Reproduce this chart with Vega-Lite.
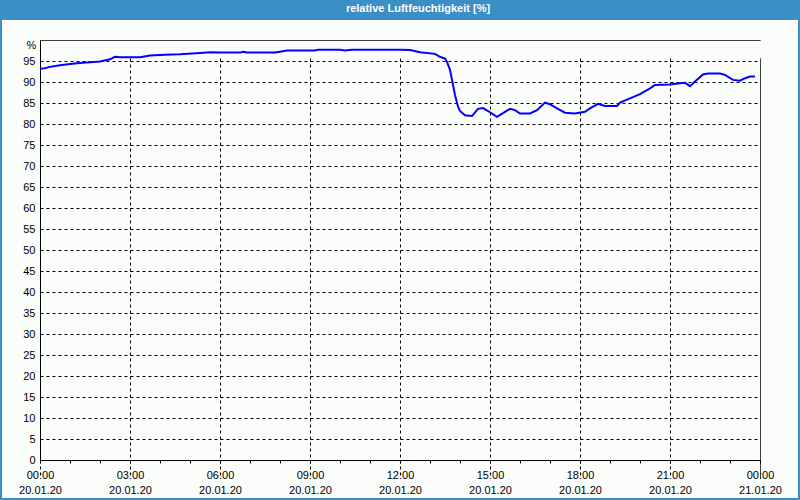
{
  "$schema": "https://vega.github.io/schema/vega-lite/v6.json",
  "width": 796,
  "height": 478,
  "autosize": {"type": "none"},
  "padding": {"left": 2, "top": 20, "right": 2, "bottom": 2},
  "background": "#3b8ec6",
  "title": {
    "text": "relative Luftfeuchtigkeit [%]",
    "color": "white",
    "font": "Liberation Sans",
    "fontSize": 11,
    "fontWeight": "bold",
    "anchor": "middle",
    "frame": "group",
    "baseline": "middle",
    "offset": 0,
    "dx": 18
  },
  "config": {
    "view": {"fill": "#fbfdfb", "stroke": null},
    "font": "Liberation Sans"
  },
  "data": {
    "values": [
      {"t": "2020-01-20T00:00", "rh": 93.1},
      {"t": "2020-01-20T00:10", "rh": 93.3},
      {"t": "2020-01-20T00:20", "rh": 93.6},
      {"t": "2020-01-20T00:40", "rh": 94.0},
      {"t": "2020-01-20T01:00", "rh": 94.3},
      {"t": "2020-01-20T01:20", "rh": 94.5},
      {"t": "2020-01-20T01:40", "rh": 94.7},
      {"t": "2020-01-20T02:00", "rh": 94.9},
      {"t": "2020-01-20T02:20", "rh": 95.4},
      {"t": "2020-01-20T02:30", "rh": 96.0},
      {"t": "2020-01-20T02:40", "rh": 95.9},
      {"t": "2020-01-20T03:20", "rh": 95.9},
      {"t": "2020-01-20T03:40", "rh": 96.3},
      {"t": "2020-01-20T04:10", "rh": 96.5},
      {"t": "2020-01-20T04:40", "rh": 96.6},
      {"t": "2020-01-20T05:20", "rh": 96.9},
      {"t": "2020-01-20T05:40", "rh": 97.1},
      {"t": "2020-01-20T06:00", "rh": 97.0},
      {"t": "2020-01-20T06:40", "rh": 97.0},
      {"t": "2020-01-20T06:46", "rh": 97.2},
      {"t": "2020-01-20T06:54", "rh": 97.0},
      {"t": "2020-01-20T07:50", "rh": 97.0},
      {"t": "2020-01-20T08:00", "rh": 97.2},
      {"t": "2020-01-20T08:14", "rh": 97.5},
      {"t": "2020-01-20T09:10", "rh": 97.5},
      {"t": "2020-01-20T09:16", "rh": 97.7},
      {"t": "2020-01-20T10:00", "rh": 97.7},
      {"t": "2020-01-20T10:10", "rh": 97.5},
      {"t": "2020-01-20T10:24", "rh": 97.7},
      {"t": "2020-01-20T12:00", "rh": 97.7},
      {"t": "2020-01-20T12:20", "rh": 97.6},
      {"t": "2020-01-20T12:40", "rh": 97.1},
      {"t": "2020-01-20T13:10", "rh": 96.7},
      {"t": "2020-01-20T13:20", "rh": 96.0},
      {"t": "2020-01-20T13:30", "rh": 95.6},
      {"t": "2020-01-20T13:34", "rh": 94.8},
      {"t": "2020-01-20T13:40", "rh": 92.9},
      {"t": "2020-01-20T13:44", "rh": 90.5},
      {"t": "2020-01-20T13:50", "rh": 86.9},
      {"t": "2020-01-20T13:56", "rh": 84.1},
      {"t": "2020-01-20T14:00", "rh": 83.1},
      {"t": "2020-01-20T14:10", "rh": 82.1},
      {"t": "2020-01-20T14:24", "rh": 81.9},
      {"t": "2020-01-20T14:36", "rh": 83.6},
      {"t": "2020-01-20T14:46", "rh": 83.8},
      {"t": "2020-01-20T15:00", "rh": 82.8},
      {"t": "2020-01-20T15:14", "rh": 81.7},
      {"t": "2020-01-20T15:30", "rh": 82.9},
      {"t": "2020-01-20T15:40", "rh": 83.6},
      {"t": "2020-01-20T15:50", "rh": 83.3},
      {"t": "2020-01-20T16:00", "rh": 82.5},
      {"t": "2020-01-20T16:20", "rh": 82.5},
      {"t": "2020-01-20T16:34", "rh": 83.3},
      {"t": "2020-01-20T16:50", "rh": 85.1},
      {"t": "2020-01-20T17:00", "rh": 84.7},
      {"t": "2020-01-20T17:14", "rh": 83.7},
      {"t": "2020-01-20T17:30", "rh": 82.7},
      {"t": "2020-01-20T17:50", "rh": 82.5},
      {"t": "2020-01-20T18:10", "rh": 82.9},
      {"t": "2020-01-20T18:20", "rh": 83.7},
      {"t": "2020-01-20T18:36", "rh": 84.8},
      {"t": "2020-01-20T18:50", "rh": 84.3},
      {"t": "2020-01-20T19:14", "rh": 84.3},
      {"t": "2020-01-20T19:20", "rh": 85.1},
      {"t": "2020-01-20T19:40", "rh": 86.1},
      {"t": "2020-01-20T20:00", "rh": 87.1},
      {"t": "2020-01-20T20:20", "rh": 88.5},
      {"t": "2020-01-20T20:30", "rh": 89.3},
      {"t": "2020-01-20T21:00", "rh": 89.4},
      {"t": "2020-01-20T21:20", "rh": 89.7},
      {"t": "2020-01-20T21:30", "rh": 89.8},
      {"t": "2020-01-20T21:40", "rh": 89.0},
      {"t": "2020-01-20T21:50", "rh": 90.1},
      {"t": "2020-01-20T22:06", "rh": 91.8},
      {"t": "2020-01-20T22:16", "rh": 92.0},
      {"t": "2020-01-20T22:40", "rh": 92.0},
      {"t": "2020-01-20T22:50", "rh": 91.7},
      {"t": "2020-01-20T23:06", "rh": 90.5},
      {"t": "2020-01-20T23:20", "rh": 90.3},
      {"t": "2020-01-20T23:30", "rh": 90.9},
      {"t": "2020-01-20T23:40", "rh": 91.3},
      {"t": "2020-01-20T23:50", "rh": 91.3}
    ]
  },
  "mark": {"type": "line", "color": "#0000ff", "strokeWidth": 2},
  "encoding": {
    "x": {
      "field": "t",
      "type": "temporal",
      "scale": {
        "domain": [{"year": 2020, "month": 1, "date": 20, "hours": 0}, {"year": 2020, "month": 1, "date": 21, "hours": 0}],
        "range": [38, 758],
        "nice": false
      },
      "axis": {
        "orient": "bottom",
        "offset": -38,
        "title": null,
        "tickCount": 24,
        "labelExpr": "hours(datum.value) % 3 == 0 ? [timeFormat(datum.value, '%H:%M'), timeFormat(datum.value, '%d.%m.%y')] : ''",
        "labelOverlap": false,
        "labelFlush": false,
        "labelBound": false,
        "labelFont": "Liberation Sans",
        "labelFontSize": 11,
        "labelColor": "black",
        "labelPadding": 6,
        "labelLineHeight": 15,
        "labelBaseline": "top",
        "tickSize": 3,
        "tickColor": "black",
        "domainColor": "black",
        "grid": true,
        "gridColor": "black",
        "gridDash": {"condition": {"test": "+datum.value >= +datetime(2020, 0, 21)", "value": [1, 0]}, "value": [3, 3]},
        "gridOpacity": {"condition": {"test": "hours(datum.value) % 3 == 0", "value": 1}, "value": 0}
      }
    },
    "y": {
      "field": "rh",
      "type": "quantitative",
      "scale": {"domain": [0, 100], "range": [440, 20], "nice": false, "zero": false},
      "axis": {
        "orient": "left",
        "offset": -38,
        "values": [0, 5, 10, 15, 20, 25, 30, 35, 40, 45, 50, 55, 60, 65, 70, 75, 80, 85, 90, 95, 100],
        "labelExpr": "datum.value == 100 ? '' : datum.label",
        "ticks": false,
        "labelPadding": 5,
        "labelFont": "Liberation Sans",
        "labelFontSize": 11,
        "labelColor": "black",
        "domainColor": "black",
        "grid": true,
        "gridColor": "black",
        "gridDash": {"condition": {"test": "datum.value == 100", "value": [1, 0]}, "value": [3, 3]},
        "title": "%",
        "titleAngle": 0,
        "titleX": -9,
        "titleY": 25,
        "titleAlign": "center",
        "titleBaseline": "middle",
        "titleFont": "Liberation Sans",
        "titleFontSize": 11,
        "titleFontWeight": "normal",
        "titleColor": "black"
      }
    }
  }
}
